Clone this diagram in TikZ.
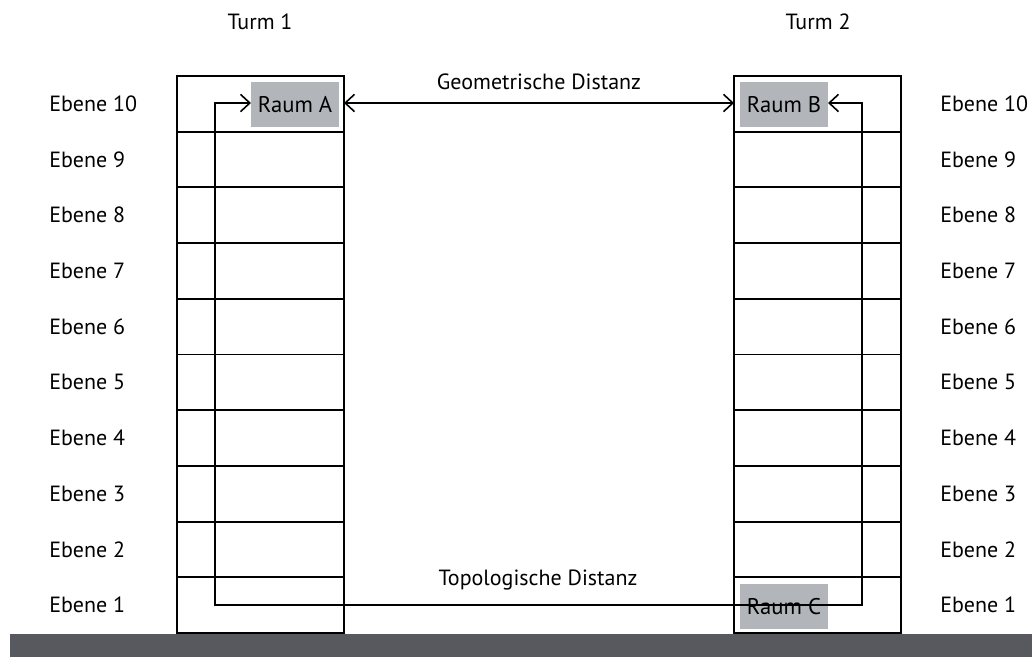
\documentclass[tikz,border=0pt]{standalone}
\usepackage{fontspec}
\setmainfont{PT Sans}
\usetikzlibrary{arrows.meta,calc}
\definecolor{roomgray}{HTML}{B2B6BA}
\definecolor{ground}{HTML}{58595E}
\tikzset{
  lbl/.style={font=\fontsize{16.5}{18}\selectfont, inner sep=0pt, text=black},
  tower/.style={draw, line width=1.4pt, minimum width=125.25pt, minimum height=417.75pt, inner sep=0pt, outer sep=0pt},
  floorline/.style={line width=1.4pt},
  room/.style={fill=roomgray, minimum width=66pt, minimum height=33.75pt, inner sep=0pt, outer sep=0pt, font=\fontsize{17}{18}\selectfont},
  conn/.style={line width=1.2pt, {Straight Barb[length=7pt,width=13pt,line width=1.2pt]}-{Straight Barb[length=7pt,width=13pt,line width=1.2pt]}},
}
\begin{document}
\begin{tikzpicture}[x=0.75pt,y=-0.75pt]
\useasboundingbox (0,0) rectangle (1032,657);
\fill[ground] (10,634) rectangle (1032,657);
% towers
\node[tower] (t1) at (260.5,354.5) {};
\node[tower] (t2) at (817.5,354.5) {};
\foreach \k in {1,...,9} {
  \draw[floorline] ($(t1.north west)+(0,{\k*55.7})$) -- ($(t1.north east)+(0,{\k*55.7})$);
  \draw[floorline] ($(t2.north west)+(0,{\k*55.7})$) -- ($(t2.north east)+(0,{\k*55.7})$);
}
% titles
\node[lbl] (turm1) at (260,22) {Turm 1};
\node[lbl] (turm2) at (818,22) {Turm 2};
% level labels
\foreach \n in {1,...,10} {
  \pgfmathsetmacro{\yy}{76+(10-\n)*55.7+27.85}
  \node[lbl, anchor=west] (l\n) at (49,\yy) {Ebene \n};
  \node[lbl, anchor=west] (r\n) at (940,\yy) {Ebene \n};
}
% rooms
\node[room] (A) at (295,104.5) {Raum A};
\node[room] (B) at (784,104.5) {Raum B};
\node[room] (C) at (784,606.5) {Raum C};
% corner coordinates
\coordinate (c1) at (215,605);
\coordinate (c2) at (862,605);
\coordinate (gA) at ($(A.east)+(5,-1.5)$);
% geometric distance
\draw[conn] (gA) -- (gA -| t2.west) node[lbl, midway, above=9pt] (geo) {Geometrische Distanz};
% topological distance
\draw[conn] (A.west |- 0,103) -| (c1) -- (c2) |- (B.east |- 0,103);
\node[lbl] (topo) at (538,580) {Topologische Distanz};
\end{tikzpicture}
\end{document}
